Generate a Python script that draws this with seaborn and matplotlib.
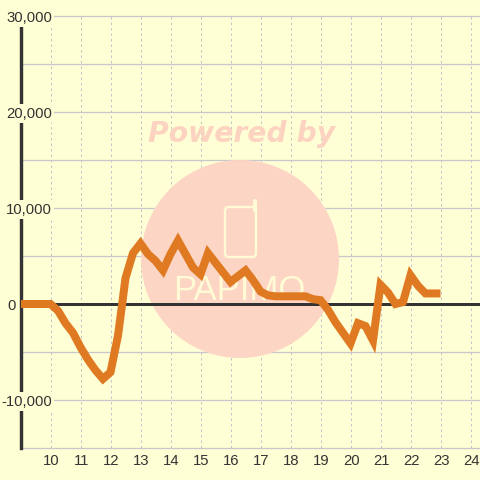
# Hourly balance line chart with faint watermark behind it

import numpy as np
import pandas as pd
import seaborn as sns
import matplotlib.pyplot as plt
from matplotlib.patches import Circle, FancyBboxPatch
from matplotlib.transforms import Affine2D, ScaledTranslation

hours = [9, 9.25, 9.5, 9.75, 10, 10.25, 10.5, 10.75, 11, 11.25, 11.5, 11.75,
         12, 12.25, 12.5, 12.75, 13, 13.25, 13.5, 13.75, 14, 14.25, 14.5, 14.75,
         15, 15.25, 15.5, 15.75, 16, 16.25, 16.5, 16.75, 17, 17.25, 17.5, 17.75,
         18, 18.25, 18.5, 18.75, 19, 19.25, 19.5, 19.75, 20, 20.25, 20.5, 20.75,
         21, 21.25, 21.5, 21.75, 22, 22.25, 22.5, 22.75, 23]
balance = [0, 0, 0, 0, 0, -700, -2000, -3000, -4500, -5800, -6900, -7800,
           -7100, -3300, 2700, 5300, 6300, 5200, 4500, 3500, 5200, 6600, 5200, 3800,
           3100, 5300, 4300, 3300, 2300, 2900, 3500, 2500, 1300, 900, 800, 800,
           800, 800, 800, 500, 400, -600, -1900, -3000, -4100, -2000, -2300, -3800,
           2000, 1200, 0, 200, 3000, 1900, 1100, 1100, 1100]
x_ticks = list(range(10, 25))
y_grid = [-15000, -10000, -5000, 0, 5000, 10000, 15000, 20000, 25000, 30000]
y_labels = {30000: "30,000", 20000: "20,000", 10000: "10,000", 0: "0", -10000: "-10,000"}

BG = "#FFFFD5"
DARK = "#333333"
PX = 72 / 100  # one pixel in points at dpi 100

sns.set_theme(style="white", rc={"figure.facecolor": BG, "axes.facecolor": BG,
                                 "lines.solid_capstyle": "butt"})
plt.rcParams["font.family"] = ["Liberation Sans", "DejaVu Sans"]

fig = plt.figure(figsize=(4.8, 4.8), dpi=100)
ax = fig.add_axes([20.5 / 480, 32 / 480, 459.5 / 480, 432 / 480])

df = pd.DataFrame({"hour": hours, "balance": balance})
line = sns.lineplot(data=df, x="hour", y="balance", ax=ax, color="#DF7A22",
                    linewidth=8 * PX, zorder=4, errorbar=None, estimator=None)
line.lines[0].set_solid_joinstyle("miter")
line.lines[0].set_solid_capstyle("butt")

ax.set_xlim(9, 9 + 459.5 / 30)
ax.set_ylim(-15000, 30000)
ax.set_xlabel("")
ax.set_ylabel("")

# grid
ax.set_axisbelow(True)
ax.set_xticks(x_ticks)
ax.set_yticks(y_grid)
ax.set_yticklabels([])
ax.tick_params(length=0)
ax.tick_params(axis="x", labelsize=10.7, labelcolor=DARK, pad=4.5)
ax.grid(axis="y", color="#C8C8CC", linewidth=1.3 * PX, clip_on=False)
ax.grid(axis="x", color="#C4C4CC", linewidth=1 * PX, linestyle=(0, (2.5, 3)))

shift = ScaledTranslation(1 / 100, 0, fig.dpi_scale_trans)
for tick_label in ax.get_xticklabels():
    tick_label.set_transform(tick_label.get_transform() + shift)

for name in ["top", "right", "bottom"]:
    ax.spines[name].set_visible(False)
ax.spines["left"].set_color(DARK)
ax.spines["left"].set_linewidth(3.4 * PX)
ax.spines["left"].set_zorder(3)
ax.axhline(0, color=DARK, linewidth=3 * PX, zorder=3)

# watermark, placed in image pixels
to_px = Affine2D().scale(1, -1).translate(0, 480)
ax.add_patch(Circle((240, 259), 99, transform=to_px, facecolor="#FCD5C5", edgecolor="none", zorder=1))
ax.add_patch(FancyBboxPatch((225, 207), 31, 50, boxstyle="round,pad=0,rounding_size=4", transform=to_px,
                            facecolor="none", edgecolor="#FFFBD5", linewidth=2.4 * PX, zorder=1.1))
ax.plot([254.5, 254.5], [201, 210], transform=to_px, color="#FFFBD5", linewidth=4 * PX,
        solid_capstyle="round", zorder=1.1)
ax.text(242, 134, "Powered by", transform=to_px, ha="center", va="center", color="#FCD3C1",
        family="DejaVu Sans", fontweight="bold", fontstyle="oblique", fontsize=20.3, zorder=1)
ax.text(239, 290, "PAPIMO", transform=to_px, ha="center", va="center", color="#FFFBD5",
        fontsize=25, zorder=1.1)

# y labels sit inside the plot and mask the axis line
for value, label in y_labels.items():
    right = label != "0"
    ypx = 304 - value * 96 / 10000
    ax.text(52 if right else 16, ypx, label, transform=to_px, ha="right", va="center_baseline",
            color=DARK, fontsize=10.7, zorder=3.5, clip_on=False,
            bbox=dict(facecolor=BG, edgecolor="none", pad=2.2 * PX))

fig.savefig("out.png", dpi=100, facecolor=BG)
